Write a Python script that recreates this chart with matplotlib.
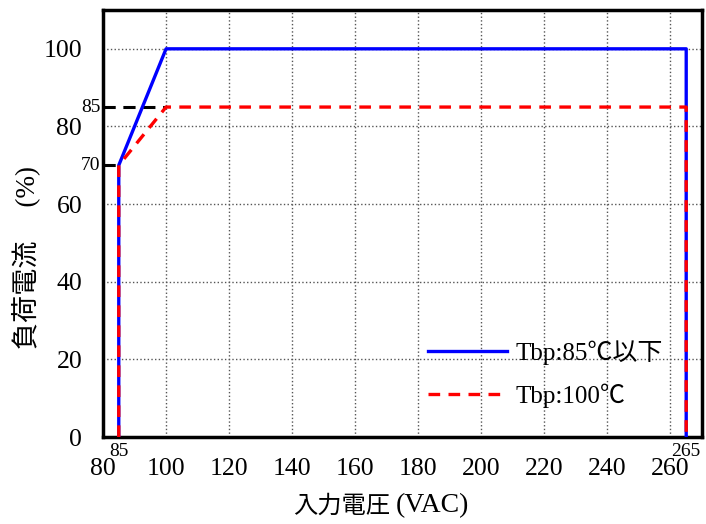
import matplotlib
matplotlib.use('Agg')
import matplotlib.pyplot as plt

plt.rcParams['font.family'] = ['Liberation Serif', 'Noto Sans CJK JP', 'DejaVu Sans']

# データ
volt_85 = [85, 85, 100, 265, 265]
curr_85 = [0, 70, 100, 100, 0]
volt_100 = [85, 85, 100, 265, 265]
curr_100 = [0, 70, 85, 85, 0]
ref_volt = [[80, 100], [80, 85]]
ref_curr = [85, 70]
x_ticks = [80, 100, 120, 140, 160, 180, 200, 220, 240, 260]
y_ticks = [0, 20, 40, 60, 80, 100]
extra_x = [85, 265]
extra_y = [85, 70]

fig = plt.figure(figsize=(7.06, 5.24), dpi=100)
ax = fig.add_axes([0.1459, 0.166, 0.8484, 0.8149])

ax.set_xlim(80, 270)
ax.set_ylim(0, 110)
ax.set_xticks(x_ticks)
ax.set_yticks(y_ticks)
ax.tick_params(length=0, labelsize=18.5, pad=15)
ax.grid(True, linestyle=':', color='#555555', linewidth=1)
ax.set_axisbelow(True)
for s in ax.spines.values():
    s.set_linewidth(2.5)

# 基準線
for xs, yv in zip(ref_volt, ref_curr):
    ax.plot(xs, [yv, yv], color='black', linestyle=(0, (4, 2.5)), linewidth=2.2, zorder=3)

ax.plot(volt_85, curr_85, color='blue', linewidth=2.4, label='Tbp:85℃以下', zorder=4)
ax.plot(volt_100, curr_100, color='red', linewidth=2.4, linestyle=(0, (3.5, 2.5)),
        label='Tbp:100℃', zorder=5)

# 小さいラベル
for v in extra_x:
    ax.annotate(str(v), xy=(v, 0), xycoords=('data', 'axes fraction'),
                xytext=(0, -4), textcoords='offset points',
                ha='center', va='top', fontsize=14)
for v in extra_y:
    ax.annotate(str(v), xy=(0, v), xycoords=('axes fraction', 'data'),
                xytext=(-2, 0), textcoords='offset points',
                ha='right', va='center', fontsize=14)

# 軸ラベル
fig.text(390 / 706, 1 - 506 / 524, '入力電圧', ha='right', va='center', fontsize=17.5)
fig.text(396 / 706, 1 - 506 / 524, '(VAC)', ha='left', va='center', fontsize=20)
ax.set_ylabel('負荷電流　 (%)', fontsize=19.5)
ax.yaxis.set_label_coords(-0.105, 0.42)

leg = ax.legend(loc='center left', bbox_to_anchor=(0.5426, 0.1475), frameon=False,
                fontsize=18, handlelength=3.15, handletextpad=0.35,
                labelspacing=0.75, borderpad=0, borderaxespad=0)

fig.savefig('out.png', dpi=100)
